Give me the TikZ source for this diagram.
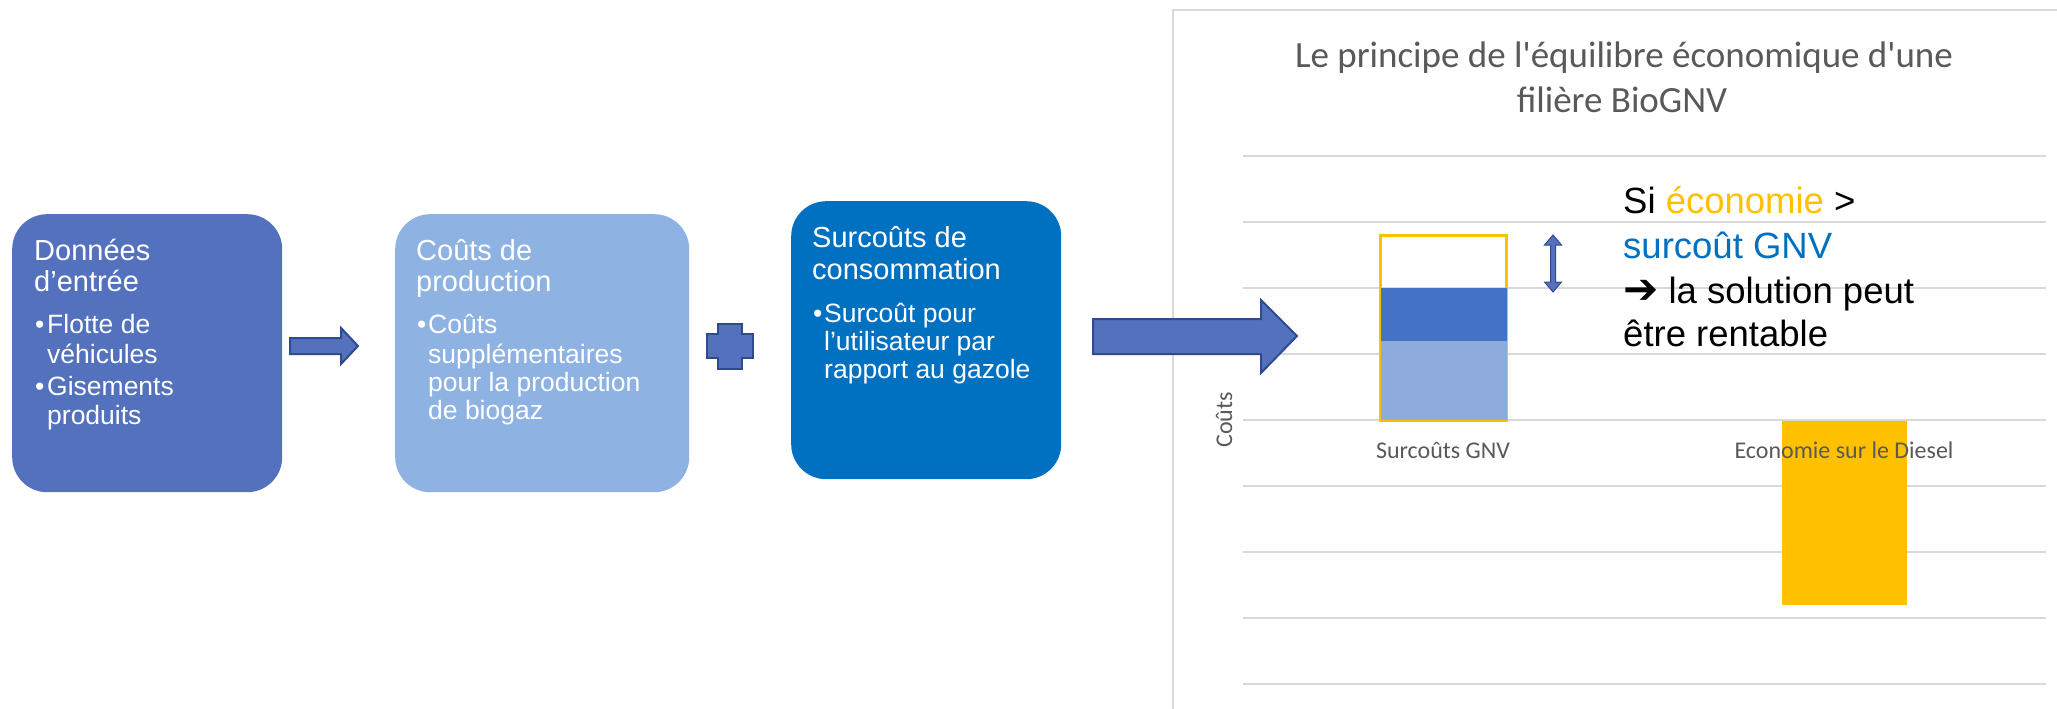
\documentclass[tikz,border=0pt]{standalone}
\usepackage{fontspec}
\setmainfont{Liberation Sans}
\newfontfamily\calfont{Carlito}
\newfontfamily\symfont{DejaVu Sans}
\definecolor{cA}{RGB}{84,113,189}
\definecolor{cB}{RGB}{142,178,226}
\definecolor{cC}{RGB}{0,112,192}
\definecolor{arrowfill}{RGB}{84,113,189}
\definecolor{arrowline}{RGB}{47,75,143}
\definecolor{gridc}{RGB}{217,217,217}
\definecolor{gold}{RGB}{255,192,0}
\definecolor{darkbar}{RGB}{68,114,196}
\definecolor{lightbar}{RGB}{143,170,220}
\definecolor{txtgray}{RGB}{89,89,89}
\begin{document}
\begin{tikzpicture}[x=1pt,y=-1pt,
  boxstyle/.style={rounded corners=35pt, inner sep=0, anchor=north west, minimum height=278pt},
  ttl/.style={font=\fontsize{29}{31}\selectfont, text=white, anchor=base west, inner sep=0},
  blt/.style={font=\fontsize{26.5}{30}\selectfont, text=white, anchor=base west, inner sep=0},
  blockarrow/.style={fill=arrowfill, draw=arrowline, line width=2pt, line join=miter},
  gridline/.style={draw=gridc, line width=2pt},
  chartttl/.style={font=\calfont\fontsize{37}{45}\selectfont, text=txtgray, inner sep=0, anchor=base},
  catlbl/.style={font=\calfont\fontsize{24}{28}\selectfont, text=txtgray, inner sep=0, anchor=base},
  note/.style={font=\fontsize{36.5}{44}\selectfont, text=black, anchor=base west, inner sep=0}
]
\useasboundingbox (0,0) rectangle (2057,709);
\fill[white] (0,0) rectangle (2057,709);

% boxes
\node[boxstyle, fill=cA, minimum width=270pt] (box1) at (12,214) {};
\node[boxstyle, fill=cB, minimum width=294pt] (box2) at (395,214) {};
\node[boxstyle, fill=cC, minimum width=270pt] (box3) at (791,201) {};

% box 1 text
\node[ttl] (b1t1) at (34,260) {Données};
\node[ttl] (b1t2) at (34,291) {d’entrée};
\node[blt] (b1d1) at (35,333) {•};
\node[blt] (b1l1) at (47,333) {Flotte de};
\node[blt] (b1l2) at (47,363) {véhicules};
\node[blt] (b1d2) at (35,395) {•};
\node[blt] (b1l3) at (47,395) {Gisements};
\node[blt] (b1l4) at (47,424) {produits};

% box 2 text
\node[ttl] (b2t1) at (416,260) {Coûts de};
\node[ttl] (b2t2) at (416,291) {production};
\node[blt] (b2d1) at (417,333) {•};
\node[blt] (b2l1) at (428,333) {Coûts};
\node[blt] (b2l2) at (428,363) {supplémentaires};
\node[blt] (b2l3) at (428,391) {pour la production};
\node[blt] (b2l4) at (428,419) {de biogaz};

% box 3 text
\node[ttl] (b3t1) at (812,247) {Surcoûts de};
\node[ttl] (b3t2) at (812,279) {consommation};
\node[blt] (b3d1) at (813,322) {•};
\node[blt] (b3l1) at (824,322) {Surcoût pour};
\node[blt] (b3l2) at (824,350) {l’utilisateur par};
\node[blt] (b3l3) at (824,378) {rapport au gazole};

% chart frame and grid
\draw[gridline] (1173,709) -- (1173,10) -- (2057,10);
\foreach \gy in {156,222,288,354,420,486,552,618,684}
  \draw[gridline] (1243,\gy) -- (2046,\gy);

% chart title
\node[chartttl] (ctitle1) at (1624,67) {Le principe de l'équilibre économique d'une};
\node[chartttl] (ctitle2) at (1622,112) {filière BioGNV};

% bars
\draw[draw=gold, line width=3pt] (1380,235) rectangle (1506,420);
\fill[lightbar] (1381,341) rectangle (1507,420);
\fill[darkbar] (1381,288) rectangle (1507,341);
\fill[gold] (1782,421) rectangle (1907,605);

% axis & category labels
\node[font=\calfont\fontsize{24}{28}\selectfont, text=txtgray, rotate=90, inner sep=0] (ylabel) at (1224,420) {Coûts};
\node[catlbl] (cat1) at (1443,458) {Surcoûts GNV};
\node[catlbl] (cat2) at (1844,458) {Economie sur le Diesel};

% double arrow
\filldraw[fill=arrowfill, draw=arrowline, line width=1pt, line join=miter]
  (1553,235) -- (1561.5,245) -- (1555.5,245) -- (1555.5,282) -- (1561.5,282) -- (1553,292)
  -- (1544.5,282) -- (1550.5,282) -- (1550.5,245) -- (1544.5,245) -- cycle;

% note
\node[note] (n1) at (1623,213) {Si \textcolor{gold}{économie} >};
\node[note] (n2) at (1623,258) {\textcolor{cC}{surcoût GNV}};
\node[note] (n3) at (1623,303) {{\symfont\fontsize{42}{44}\selectfont ➔} la solution peut};
\node[note] (n4) at (1623,346) {être rentable};

% block arrows
\filldraw[blockarrow] (290,338) -- (341,338) -- (341,328) -- (358,346) -- (341,364) -- (341,354) -- (290,354) -- cycle;
\filldraw[blockarrow] (718,324) -- (742,324) -- (742,334) -- (753,334) -- (753,358) -- (742,358) -- (742,369)
  -- (718,369) -- (718,358) -- (707,358) -- (707,334) -- (718,334) -- cycle;
\filldraw[blockarrow] (1093,319) -- (1261,319) -- (1261,300) -- (1297,336) -- (1261,373) -- (1261,354) -- (1093,354) -- cycle;
\end{tikzpicture}
\end{document}
